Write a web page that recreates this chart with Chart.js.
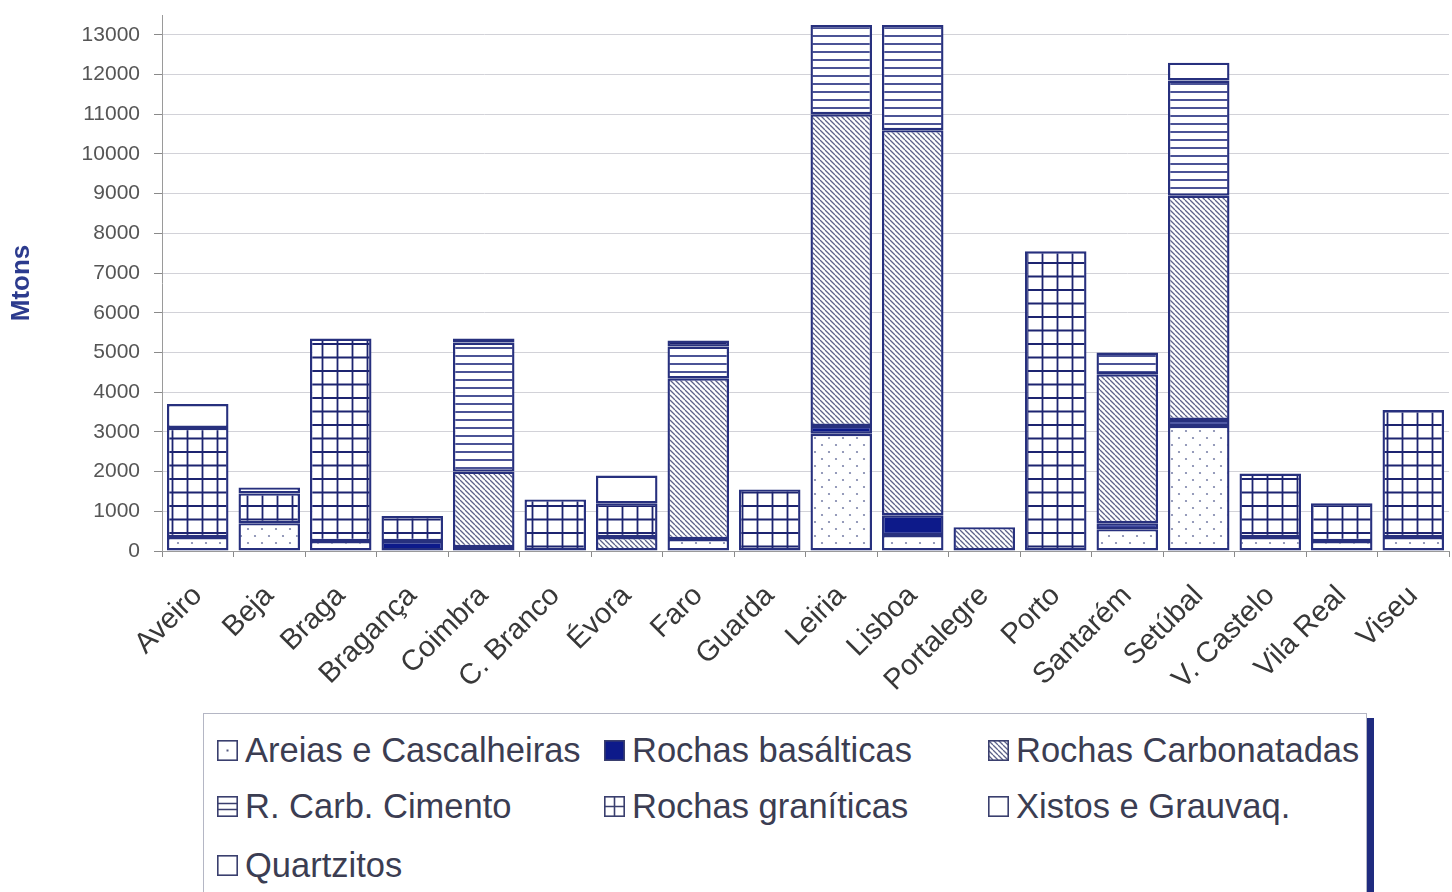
<!DOCTYPE html>
<html>
<head>
<meta charset="utf-8">
<script src="https://cdn.jsdelivr.net/npm/chart.js@4.4.1/dist/chart.umd.min.js"></script>
<style>
  html, body { margin: 0; padding: 0; background: #fff; }
  body { width: 1452px; height: 892px; position: relative; overflow: hidden; font-family: "Liberation Sans", Arial, sans-serif; }
  #wrap { position: absolute; left: 0; top: 0; width: 1452px; height: 712px; }
  #legend {
    position: absolute; left: 203px; top: 713px; width: 1162px; height: 180px;
    background: #fff; border: 1px solid #b4b6c4; box-shadow: 7px 5px 0 #1f2b7f;
    font-size: 34.5px; color: #3b3d52;
  }
  #legend .item { position: absolute; display: flex; align-items: center; height: 40px; white-space: nowrap; }
  #legend .item canvas { width: 21px; height: 21px; margin-right: 7px; }
</style>
</head>
<body>
<div id="wrap"><canvas id="chart"></canvas></div>
<div id="legend"></div>
<script>
const categories = ['Aveiro', 'Beja', 'Braga', 'Bragança', 'Coimbra', 'C. Branco', 'Évora', 'Faro', 'Guarda',
  'Leiria', 'Lisboa', 'Portalegre', 'Porto', 'Santarém', 'Setúbal', 'V. Castelo', 'Vila Real', 'Viseu'];

// production per district, Mtons (stacked bottom to top in this order)
const areias       = [350, 700, 250, 0, 0, 0, 0, 300, 0, 2950, 400, 0, 0, 550, 3150, 350, 250, 350];
const basalticas   = [0, 0, 0, 250, 100, 0, 0, 0, 0, 200, 500, 0, 0, 150, 150, 0, 0, 0];
const carbonatadas = [0, 0, 0, 0, 1900, 0, 350, 4050, 0, 7850, 9700, 600, 0, 3750, 5650, 0, 0, 0];
const cimento      = [0, 0, 0, 0, 3250, 0, 0, 800, 0, 2250, 2650, 0, 0, 550, 2900, 0, 0, 0];
const graniticas   = [2750, 750, 5100, 630, 100, 1300, 850, 150, 1550, 0, 0, 0, 7550, 0, 0, 1600, 950, 3200];
const xistos       = [600, 150, 0, 0, 0, 0, 700, 0, 0, 0, 0, 0, 0, 0, 450, 0, 0, 0];
const quartzitos   = [0, 0, 0, 0, 0, 0, 0, 0, 0, 0, 0, 0, 0, 0, 0, 0, 0, 0];

const seriesNames = ['Areias e Cascalheiras', 'Rochas basálticas', 'Rochas Carbonatadas',
  'R. Carb. Cimento', 'Rochas graníticas', 'Xistos e Grauvaq.', 'Quartzitos'];
const seriesData = [areias, basalticas, carbonatadas, cimento, graniticas, xistos, quartzitos];

const yTickValues = [0, 1000, 2000, 3000, 4000, 5000, 6000, 7000, 8000, 9000, 10000, 11000, 12000, 13000];

const NAVY = '#27307e';
const FONT = '"Liberation Sans", Arial, sans-serif';
const fillKinds = ['dots', 'solid', 'diag', 'hlines', 'grid', 'blank', 'blank'];

// one repeating tile per fill kind
function makePattern(kind) {
  const tile = document.createElement('canvas');
  const g = tile.getContext('2d');
  const sizes = { dots: [14, 14], solid: [4, 4], diag: [5, 5], hlines: [8, 8], grid: [15, 27], blank: [4, 4] };
  [tile.width, tile.height] = sizes[kind];
  const w = tile.width, h = tile.height;
  g.fillStyle = '#fff';
  g.fillRect(0, 0, w, h);
  if (kind === 'solid') {
    g.fillStyle = '#0d1a8a';
    g.fillRect(0, 0, w, h);
  } else if (kind === 'dots') {
    g.fillStyle = '#7d84aa';
    [[3, 4], [10, 11]].forEach(([x, y]) => {
      g.beginPath(); g.arc(x, y, 1.1, 0, Math.PI * 2); g.fill();
    });
  } else if (kind === 'diag') {
    g.strokeStyle = '#5d6289';
    g.lineWidth = 1.3;
    g.beginPath();
    for (let k = -1; k <= 1; k++) {
      g.moveTo(k * w, 0); g.lineTo(k * w + w, h);
    }
    g.stroke();
  } else if (kind === 'hlines') {
    g.strokeStyle = '#2b3583';
    g.lineWidth = 1.7;
    g.beginPath(); g.moveTo(0, h / 2); g.lineTo(w, h / 2); g.stroke();
  } else if (kind === 'grid') {
    // two rows per tile so the 13.5px pitch lands on whole pixels
    g.strokeStyle = '#1d2470';
    g.lineWidth = 1.8;
    g.beginPath();
    g.moveTo(7.5, 0); g.lineTo(7.5, h);
    g.moveTo(0, 6.5); g.lineTo(w, 6.5);
    g.moveTo(0, 20); g.lineTo(w, 20);
    g.stroke();
  }
  return g.createPattern(tile, 'repeat');
}

const datasets = seriesNames.map((name, i) => ({
  label: name,
  data: seriesData[i].map(v => v || null),
  backgroundColor: makePattern(fillKinds[i]),
  borderColor: NAVY,
  borderWidth: 2.4,
  borderSkipped: false,
  categoryPercentage: 1,
  barPercentage: 0.86
}));

new Chart(document.getElementById('chart'), {
  type: 'bar',
  data: { labels: categories, datasets },
  options: {
    responsive: true,
    maintainAspectRatio: false,
    animation: false,
    layout: { padding: { top: 15, right: 3, left: 0, bottom: 0 } },
    plugins: { legend: { display: false }, tooltip: { enabled: false } },
    scales: {
      x: {
        stacked: true,
        afterFit: (s) => { s.height = 712 - 551; s.paddingRight = 0; s.paddingLeft = 0; },
        grid: { offset: true, drawOnChartArea: false, tickLength: 6, color: '#8a8a8a' },
        border: { color: '#9a9a9a' },
        ticks: {
          autoSkip: false, maxRotation: 45, minRotation: 45, padding: 22,
          color: '#383838', font: { family: FONT, size: 29 }
        }
      },
      y: {
        stacked: true,
        min: 0,
        max: 13500,
        afterBuildTicks: (s) => { s.ticks = yTickValues.map(v => ({ value: v })); },
        afterFit: (s) => { s.width = 162; s.paddingTop = 0; },
        grid: { color: '#d2d2d8', tickLength: 8, tickColor: '#8a8a8a' },
        border: { color: '#9a9a9a' },
        ticks: {
          padding: 14, color: '#555', font: { family: FONT, size: 21 },
          callback: (v) => String(v)
        },
        title: {
          display: true, text: 'Mtons', color: '#2c3b8e',
          font: { family: FONT, size: 26, weight: 'bold' }, padding: { top: 6, bottom: 4 }
        }
      }
    }
  }
});

// legend: 3 columns, filled row by row
const legend = document.getElementById('legend');
const colLeft = [13, 400, 784];
const rowMid = [36, 92, 151];
seriesNames.forEach((name, i) => {
  const item = document.createElement('div');
  item.className = 'item';
  item.style.left = colLeft[i % 3] + 'px';
  item.style.top = (rowMid[Math.floor(i / 3)] - 20) + 'px';
  const sw = document.createElement('canvas');
  sw.width = 21; sw.height = 21;
  const g = sw.getContext('2d');
  const kind = fillKinds[i];
  g.fillStyle = '#fff'; g.fillRect(0, 0, 21, 21);
  if (kind === 'solid') { g.fillStyle = '#0d1a8a'; g.fillRect(0, 0, 21, 21); }
  if (kind === 'diag') { g.fillStyle = makePattern('diag'); g.fillRect(0, 0, 21, 21); }
  g.strokeStyle = '#3a3f6e'; g.lineWidth = 1.6;
  if (kind === 'dots') { g.fillStyle = '#555a80'; g.fillRect(9.5, 9.5, 2, 2); }
  if (kind === 'hlines') { g.beginPath(); g.moveTo(0, 7.5); g.lineTo(21, 7.5); g.moveTo(0, 13.5); g.lineTo(21, 13.5); g.stroke(); }
  if (kind === 'grid') { g.beginPath(); g.moveTo(10.5, 0); g.lineTo(10.5, 21); g.moveTo(0, 10.5); g.lineTo(21, 10.5); g.stroke(); }
  g.strokeRect(0.8, 0.8, 19.4, 19.4);
  item.appendChild(sw);
  const label = document.createElement('span');
  label.textContent = name;
  item.appendChild(label);
  legend.appendChild(item);
});
</script>
</body>
</html>
